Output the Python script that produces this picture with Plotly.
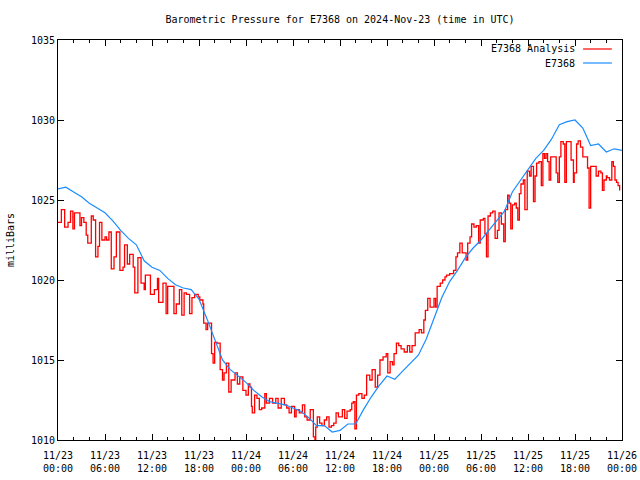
import pandas as pd
import plotly.graph_objects as go

START = pd.Timestamp("2024-11-23 00:00")

# Station E7368 observations, hourly (hours since 2024-11-23 00:00 UTC)
station_mb = [
    1025.7, 1025.8, 1025.5, 1025.2, 1024.8, 1024.5, 1024.2, 1023.7, 1023.1, 1022.6,
    1022.2, 1021.2, 1020.8, 1020.6, 1020.1, 1019.7, 1019.5, 1019.4, 1018.8, 1017.6,
    1016.3, 1015.0, 1014.4, 1014.0, 1013.6, 1013.1, 1012.7, 1012.4, 1012.3, 1012.2,
    1012.0, 1011.8, 1011.4, 1010.9, 1010.9, 1010.5, 1010.6, 1011.0, 1011.0, 1011.9,
    1012.7, 1013.4, 1014.0, 1013.8, 1014.3, 1014.8, 1015.3, 1016.3, 1017.6, 1018.9,
    1019.9, 1020.6, 1021.4, 1022.0, 1022.5, 1023.1, 1023.7, 1024.3, 1025.5, 1026.2,
    1026.9, 1027.6, 1028.1, 1028.8, 1029.7, 1029.9, 1030.0, 1029.5, 1028.4, 1028.5,
    1028.0, 1028.2, 1028.1,
]
station_hours = list(range(len(station_mb)))

# Analysis values (hours since start, milliBars)
analysis_hours = [
    0, 0.43, 0.85, 1.28, 1.6, 1.9, 2.1, 2.55, 2.8, 3.0, 3.3, 3.6, 3.8, 4.25, 4.5, 4.8,
    5.1, 5.3, 5.6, 6.0, 6.2, 6.5, 6.8, 7.15, 7.45, 7.9, 8.3, 8.5, 8.85, 9.15, 9.6, 9.8,
    10.2, 10.6, 11.0, 11.15, 11.5, 11.8, 12.3, 12.7, 12.85, 13.4, 13.8, 14.0, 14.5, 14.8,
    15.1, 15.5, 15.8, 16.1, 16.4, 16.8, 17.1, 17.45, 17.9,
    18.1, 18.5, 18.6, 18.9, 19.1, 19.4, 19.6, 19.8, 20.0, 20.3, 20.7, 21.0, 21.2, 21.5,
    21.8, 22.1, 22.4, 22.6, 22.9, 23.2, 23.6, 24.0, 24.3, 24.5, 24.7, 24.8, 25.1, 25.4,
    25.7, 26.0, 26.4, 26.6, 27.0, 27.4, 27.8, 28.1, 28.5, 28.9, 29.2, 29.5, 29.8, 30.2,
    30.4, 30.8, 31.2, 31.5, 31.8, 32.2, 32.6, 32.8, 32.9, 33.1, 33.4, 33.7, 34.0, 34.3,
    34.6, 34.9, 35.2, 35.5, 35.8,
    36.0, 36.3, 36.6, 36.9, 37.3, 37.5, 37.7, 37.9, 38.1, 38.4, 38.8, 39.1, 39.4, 39.8,
    40.1, 40.3, 40.5, 40.8, 41.1, 41.5, 41.9, 42.1, 42.4, 42.7, 42.9, 43.2, 43.5, 43.8,
    44.2, 44.6, 44.9, 45.2, 45.6, 46.1, 46.4, 46.7, 46.9, 47.2, 47.5, 48.0, 48.2, 48.4,
    48.8, 49.1, 49.4, 49.6, 50.0, 50.5, 50.8, 51.0, 51.3, 51.6, 51.9, 52.1, 52.3,
    52.6, 52.8, 53.1, 53.4, 53.7, 53.9, 54.3, 54.5, 54.7, 54.9, 55.2, 55.5, 55.8, 56.1,
    56.3, 56.6, 56.9, 57.1, 57.4, 57.6, 57.8, 58.0, 58.3, 58.5, 58.7, 58.9, 59.1, 59.4,
    59.6, 59.9, 60.2, 60.4, 60.7, 60.9, 61.1, 61.4, 61.7, 61.9, 62.1, 62.3, 62.5, 62.7,
    62.9, 63.4, 63.6, 63.8, 64.0, 64.2, 64.5, 64.7, 64.9, 65.3, 65.5, 65.8, 65.9, 66.2,
    66.4, 66.7, 67.0, 67.4, 67.6, 67.8, 68.0, 68.2, 68.5, 68.7, 69.0, 69.3, 69.5, 69.7,
    70.0, 70.1, 70.4, 70.7, 70.9, 71.1, 71.3, 71.5, 71.7,
]
analysis_mb = [
    1023.6, 1024.4, 1023.3, 1023.6, 1024.3, 1023.2, 1024.2, 1024.2, 1023.4, 1023.9, 1023.6, 1022.8, 1022.3, 1024.0, 1023.75, 1021.45,
    1022.1, 1023.6, 1022.5, 1022.7, 1022.5, 1023.0, 1020.7, 1021.45, 1023.0, 1020.6, 1020.8, 1022.2, 1021.0, 1021.6, 1020.8, 1019.2,
    1021.4, 1019.8, 1019.4, 1020.3, 1020.3, 1019.1, 1019.4, 1020.1, 1018.6, 1019.8, 1017.9, 1019.6, 1019.6, 1017.9,
    1018.5, 1019.4, 1017.8, 1019.2, 1019.1, 1017.9, 1018.9, 1019.1, 1018.95,
    1018.75, 1018.5, 1017.3, 1016.9, 1017.3, 1017.3, 1015.4, 1014.8, 1016.1, 1016.05, 1014.4, 1013.75, 1014.2, 1014.8,
    1013.0, 1013.75, 1013.75, 1014.2, 1013.5, 1013.95, 1013.1, 1012.8, 1013.5, 1013.3, 1012.1, 1011.7, 1012.8, 1012.6,
    1011.9, 1012.0, 1012.9, 1012.3, 1012.6, 1012.3, 1012.6, 1012.0, 1012.6, 1012.2, 1012.0, 1011.7, 1012.1, 1011.45,
    1011.9, 1011.7, 1012.2, 1011.45, 1011.25, 1011.9, 1010.2, 1009.8, 1010.8, 1011.45, 1011.05, 1010.9, 1011.25, 1011.45,
    1010.8, 1010.9, 1011.05, 1011.7, 1011.45,
    1011.45, 1011.9, 1011.35, 1011.8, 1011.9, 1012.3, 1012.4, 1010.7, 1012.8, 1012.9, 1012.6, 1012.8, 1014.05, 1013.75,
    1014.4, 1014.4, 1013.3, 1014.05, 1015.0, 1015.2, 1015.4, 1014.2, 1014.9, 1014.7, 1015.4, 1016.05, 1015.9, 1015.7,
    1015.5, 1015.9, 1015.5, 1015.9, 1016.7, 1016.9, 1016.7, 1017.5, 1018.1, 1018.85, 1018.3, 1018.85, 1018.3, 1019.6,
    1019.8, 1020.0, 1020.2, 1020.3, 1020.4, 1020.6, 1021.45, 1021.7, 1022.3, 1021.7, 1021.7, 1021.25, 1022.3,
    1022.7, 1023.5, 1023.3, 1023.4, 1022.3, 1023.75, 1023.85, 1022.9, 1021.45, 1024.0, 1024.2, 1024.3, 1022.6, 1023.1,
    1024.2, 1023.5, 1022.4, 1024.4, 1025.3, 1024.8, 1023.2, 1024.7, 1024.8, 1024.5, 1023.75, 1025.4, 1026.0, 1026.25,
    1024.4, 1026.8, 1026.5, 1027.1, 1024.9, 1026.5, 1027.3, 1027.4, 1025.9, 1027.9, 1027.6, 1027.9, 1027.4, 1026.25,
    1027.7, 1027.7, 1026.7, 1026.1, 1027.7, 1028.65, 1028.5, 1026.1, 1028.65, 1028.65, 1027.5, 1026.1, 1026.7, 1028.5,
    1028.7, 1028.3, 1027.7, 1027.7, 1027.0, 1024.5, 1027.1, 1027.1, 1027.1, 1026.5, 1026.8, 1026.7, 1025.6, 1026.25,
    1026.5, 1026.4, 1026.25, 1027.4, 1027.1, 1026.25, 1026.1, 1025.9, 1025.6,
]

tick_hours = list(range(0, 73, 6))
tick_labels = ["11/23<br>00:00", "11/23<br>06:00", "11/23<br>12:00", "11/23<br>18:00",
               "11/24<br>00:00", "11/24<br>06:00", "11/24<br>12:00", "11/24<br>18:00",
               "11/25<br>00:00", "11/25<br>06:00", "11/25<br>12:00", "11/25<br>18:00",
               "11/26<br>00:00"]
y_ticks = [1010, 1015, 1020, 1025, 1030, 1035]

RED = "#ff0000"
BLUE = "#1a8cff"
FONT = "DejaVu Sans Mono"
FS = 10


def to_time(hours):
    return [START + pd.Timedelta(hours=h) for h in hours]


fig = go.Figure()
fig.add_trace(go.Scatter(x=to_time(analysis_hours), y=analysis_mb, mode="lines",
                         name="E7368 Analysis", line=dict(color=RED, width=1.3, shape="hv"),
                         showlegend=False))
fig.add_trace(go.Scatter(x=to_time(station_hours), y=station_mb, mode="lines",
                         name="E7368", line=dict(color=BLUE, width=1.2),
                         showlegend=False))

# Legend (gnuplot style: text right-aligned, sample line to the right)
for i, (label, col) in enumerate([("E7368 Analysis", RED), ("E7368", BLUE)]):
    yp = 0.9775 - i * 0.035
    fig.add_annotation(x=0.921, y=yp, xref="paper", yref="paper", text=label,
                       showarrow=False, xanchor="right", yanchor="middle",
                       font=dict(family=FONT, size=FS, color="black"))
    fig.add_shape(type="line", xref="paper", yref="paper", x0=0.931, x1=0.982,
                  y0=yp, y1=yp, line=dict(color=col, width=1.2))

fig.add_annotation(x=-0.085, y=0.5, xref="paper", yref="paper", text="milliBars",
                   showarrow=False, textangle=-90, xanchor="center", yanchor="middle",
                   font=dict(family=FONT, size=FS, color="black"))

fig.update_layout(
    width=640, height=480,
    margin=dict(l=58, r=18, t=40, b=40, autoexpand=False),
    paper_bgcolor="white", plot_bgcolor="white",
    font=dict(family=FONT, size=FS, color="black"),
    title=dict(text="Barometric Pressure for E7368 on 2024-Nov-23 (time in UTC)",
               x=0.5, xref="paper", xanchor="center", y=1 - 19 / 480, yanchor="middle",
               font=dict(family=FONT, size=FS, color="black")),
)
fig.update_xaxes(
    range=[START, START + pd.Timedelta(hours=72)],
    tickvals=to_time(tick_hours), ticktext=tick_labels,
    ticks="inside", ticklen=6, tickcolor="black", tickwidth=1,
    minor=dict(dtick=2 * 3600 * 1000, ticks="inside", ticklen=3, tickcolor="black"),
    showline=True, linecolor="black", linewidth=1, mirror="ticks",
    showgrid=False, zeroline=False, automargin=False, ticklabelstandoff=6,
    tickfont=dict(family=FONT, size=FS, color="black"),
)
fig.update_yaxes(
    range=[1010, 1035], tickvals=y_ticks,
    ticks="inside", ticklen=6, tickcolor="black", tickwidth=1,
    showline=True, linecolor="black", linewidth=1, mirror="ticks",
    showgrid=False, zeroline=False, automargin=False,
    tickfont=dict(family=FONT, size=FS, color="black"),
)

fig.write_html("out.html", config={"displayModeBar": False},
               post_script="document.body.style.margin='0';document.body.style.overflow='hidden';")
